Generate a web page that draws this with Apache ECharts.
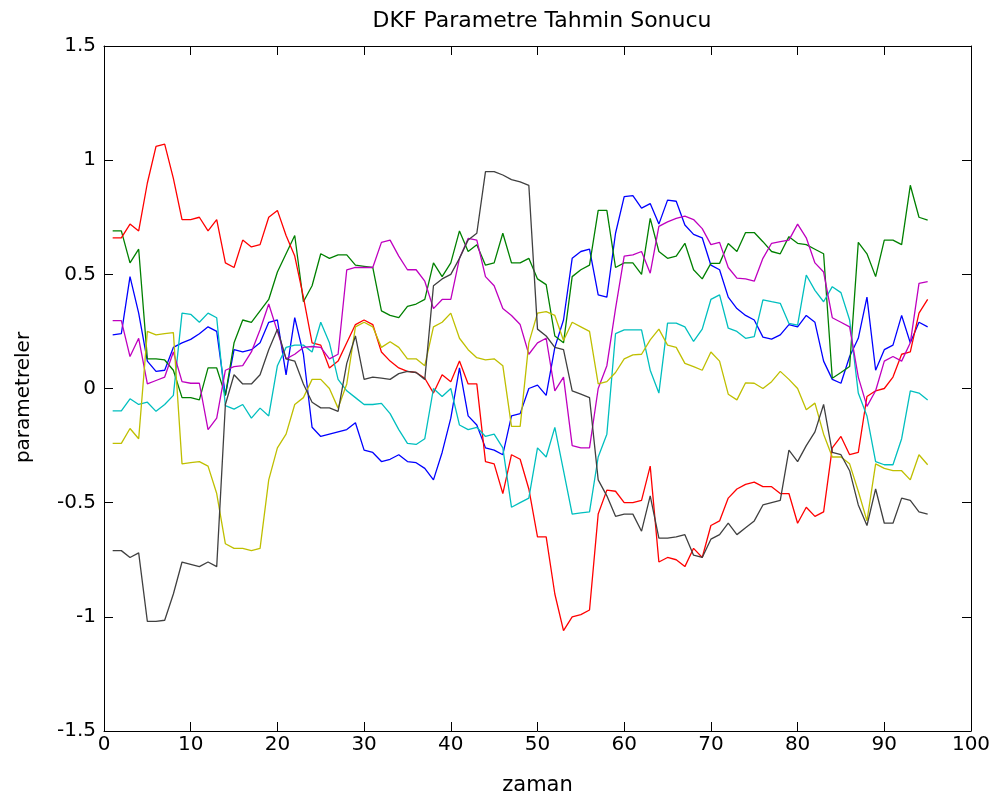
<!DOCTYPE html>
<html>
<head>
<meta charset="utf-8">
<script src="https://cdn.jsdelivr.net/npm/echarts@6/dist/echarts.min.js"></script>
<style>
html,body{margin:0;padding:0;background:#fff;}
#chart{width:1003px;height:807px;}
</style>
</head>
<body>
<div id="chart"></div>
<script>
const xs = [1,2,3,4,5,6,7,8,9,10,11,12,13,14,15,16,17,18,19,20,21,22,23,24,25,26,27,28,29,30,31,32,33,34,35,36,37,38,39,40,41,42,43,44,45,46,47,48,49,50,51,52,53,54,55,56,57,58,59,60,61,62,63,64,65,66,67,68,69,70,71,72,73,74,75,76,77,78,79,80,81,82,83,84,85,86,87,88,89,90,91,92,93,94,95];
const xTicks = [0,10,20,30,40,50,60,70,80,90,100];
const yTicks = [-1.5,-1,-0.5,0,0.5,1,1.5];

const blue = [0.235,0.24,0.49,0.33,0.12,0.075,0.08,0.18,0.2,0.215,0.24,0.27,0.25,-0.03,0.17,0.16,0.17,0.2,0.29,0.3,0.06,0.31,0.15,-0.17,-0.21,-0.2,-0.19,-0.18,-0.15,-0.27,-0.28,-0.32,-0.31,-0.29,-0.32,-0.325,-0.35,-0.40,-0.28,-0.13,0.09,-0.12,-0.16,-0.26,-0.27,-0.29,-0.12,-0.11,0.0,0.015,-0.03,0.18,0.3,0.57,0.6,0.61,0.41,0.40,0.68,0.84,0.845,0.79,0.81,0.72,0.825,0.82,0.716,0.675,0.66,0.54,0.52,0.40,0.35,0.32,0.30,0.225,0.216,0.235,0.28,0.27,0.32,0.29,0.12,0.04,0.023,0.14,0.22,0.40,0.08,0.17,0.19,0.32,0.2,0.29,0.27];
const green = [0.69,0.69,0.55,0.61,0.13,0.13,0.125,0.08,-0.04,-0.04,-0.05,0.09,0.09,-0.03,0.2,0.3,0.29,0.34,0.39,0.51,0.59,0.67,0.38,0.45,0.59,0.57,0.585,0.585,0.54,0.535,0.53,0.34,0.32,0.31,0.36,0.37,0.39,0.55,0.49,0.55,0.69,0.6,0.63,0.54,0.55,0.68,0.55,0.55,0.57,0.48,0.455,0.23,0.2,0.49,0.52,0.54,0.78,0.78,0.53,0.55,0.55,0.5,0.745,0.6,0.57,0.58,0.636,0.52,0.48,0.548,0.548,0.635,0.6,0.683,0.683,0.643,0.6,0.59,0.665,0.636,0.63,0.61,0.59,0.045,0.07,0.096,0.64,0.59,0.49,0.65,0.65,0.63,0.89,0.75,0.737];
const red = [0.66,0.66,0.72,0.69,0.9,1.06,1.07,0.92,0.74,0.74,0.75,0.69,0.74,0.55,0.53,0.65,0.62,0.63,0.75,0.78,0.67,0.58,0.40,0.20,0.19,0.09,0.12,0.20,0.28,0.30,0.28,0.16,0.12,0.09,0.075,0.07,0.045,-0.02,0.06,0.03,0.12,0.02,0.02,-0.32,-0.33,-0.46,-0.29,-0.31,-0.44,-0.65,-0.65,-0.9,-1.06,-1.0,-0.99,-0.97,-0.55,-0.445,-0.45,-0.50,-0.50,-0.49,-0.34,-0.76,-0.74,-0.75,-0.78,-0.70,-0.74,-0.6,-0.58,-0.48,-0.44,-0.42,-0.41,-0.43,-0.43,-0.46,-0.46,-0.59,-0.52,-0.56,-0.54,-0.26,-0.21,-0.29,-0.28,-0.035,-0.01,0.0,0.05,0.15,0.16,0.33,0.39];
const cyan = [-0.098,-0.098,-0.045,-0.07,-0.06,-0.10,-0.07,-0.03,0.33,0.325,0.29,0.33,0.31,-0.075,-0.09,-0.07,-0.13,-0.086,-0.12,0.1,0.18,0.19,0.19,0.16,0.29,0.2,0.04,-0.01,-0.04,-0.07,-0.07,-0.065,-0.11,-0.18,-0.24,-0.245,-0.22,0.0,-0.035,0.0,-0.16,-0.18,-0.17,-0.21,-0.2,-0.26,-0.52,-0.50,-0.48,-0.26,-0.30,-0.17,-0.36,-0.55,-0.545,-0.54,-0.3,-0.2,0.24,0.257,0.257,0.257,0.08,-0.02,0.286,0.286,0.27,0.206,0.26,0.39,0.41,0.264,0.25,0.22,0.227,0.388,0.38,0.373,0.285,0.278,0.497,0.43,0.38,0.446,0.42,0.3,-0.02,-0.12,-0.32,-0.334,-0.334,-0.22,-0.01,-0.02,-0.05];
const magenta = [0.297,0.297,0.14,0.22,0.02,0.035,0.05,0.16,0.03,0.023,0.023,-0.18,-0.13,0.08,0.096,0.1,0.16,0.257,0.37,0.25,0.13,0.15,0.18,0.184,0.18,0.13,0.15,0.52,0.53,0.53,0.53,0.64,0.65,0.58,0.52,0.52,0.47,0.35,0.39,0.39,0.57,0.657,0.65,0.49,0.45,0.35,0.32,0.28,0.15,0.2,0.22,-0.01,0.05,-0.25,-0.26,-0.26,0.0,0.1,0.35,0.58,0.585,0.6,0.505,0.71,0.73,0.745,0.755,0.74,0.70,0.63,0.64,0.53,0.483,0.48,0.47,0.57,0.636,0.643,0.65,0.72,0.66,0.55,0.51,0.31,0.29,0.27,0.05,-0.078,-0.01,0.12,0.14,0.12,0.2,0.46,0.468];
const yellow = [-0.24,-0.24,-0.175,-0.22,0.25,0.235,0.24,0.245,-0.33,-0.325,-0.32,-0.34,-0.46,-0.68,-0.70,-0.70,-0.71,-0.70,-0.4,-0.26,-0.2,-0.07,-0.04,0.04,0.04,0.0,-0.086,0.02,0.27,0.29,0.27,0.18,0.205,0.18,0.13,0.13,0.1,0.27,0.29,0.33,0.22,0.17,0.135,0.125,0.13,0.10,-0.166,-0.166,0.2,0.33,0.337,0.32,0.21,0.29,0.27,0.25,0.02,0.03,0.07,0.13,0.147,0.15,0.213,0.26,0.19,0.18,0.11,0.096,0.08,0.16,0.12,-0.025,-0.05,0.025,0.023,0.0,0.03,0.075,0.04,0.0,-0.093,-0.064,-0.2,-0.3,-0.3,-0.33,-0.45,-0.58,-0.33,-0.35,-0.36,-0.36,-0.40,-0.29,-0.334];
const black = [-0.71,-0.71,-0.74,-0.72,-1.02,-1.02,-1.015,-0.90,-0.76,-0.77,-0.78,-0.76,-0.78,-0.07,0.06,0.02,0.02,0.06,0.17,0.26,0.13,0.12,0.02,-0.06,-0.085,-0.085,-0.10,0.11,0.23,0.04,0.05,0.045,0.04,0.065,0.075,0.07,0.04,0.45,0.48,0.5,0.57,0.65,0.68,0.95,0.95,0.935,0.915,0.905,0.89,0.26,0.23,0.18,0.17,-0.01,-0.025,-0.04,-0.40,-0.47,-0.56,-0.55,-0.55,-0.625,-0.47,-0.655,-0.655,-0.65,-0.64,-0.73,-0.74,-0.66,-0.64,-0.59,-0.64,-0.61,-0.58,-0.51,-0.50,-0.49,-0.27,-0.32,-0.25,-0.19,-0.07,-0.28,-0.29,-0.36,-0.51,-0.60,-0.44,-0.59,-0.59,-0.48,-0.49,-0.54,-0.55];

const seriesDefs = [
  {name:'b', values: blue, color:'#0000ff'},
  {name:'g', values: green, color:'#008000'},
  {name:'r', values: red, color:'#ff0000'},
  {name:'c', values: cyan, color:'#00bfbf'},
  {name:'m', values: magenta, color:'#bf00bf'},
  {name:'y', values: yellow, color:'#bfbf00'},
  {name:'k', values: black, color:'#404040'}
];

const FONT = '"DejaVu Sans", "Liberation Sans", Arial, sans-serif';
const chart = echarts.init(document.getElementById('chart'), null, {renderer:'canvas'});

const axisCommon = {
  axisLine: {show:true, onZero:false, lineStyle:{color:'#000', width:1}},
  axisTick: {show:true, inside:true, length:9, lineStyle:{color:'#000', width:1}},
  splitLine: {show:false}
};

chart.setOption({
  backgroundColor:'#fff',
  animation:false,
  title:{
    text:'DKF Parametre Tahmin Sonucu',
    left:537, top:5, textAlign:'center',
    textStyle:{fontFamily:FONT, fontSize:22, fontWeight:'normal', color:'#000'}
  },
  grid:{left:104, right:32, top:46, bottom:76, containLabel:false},
  xAxis:[
    Object.assign({
      type:'value', min:0, max:100, interval:10, position:'bottom',
      name:'zaman', nameLocation:'middle', nameGap:44,
      nameTextStyle:{fontFamily:FONT, fontSize:21, color:'#000'},
      axisLabel:{fontFamily:FONT, fontSize:20, color:'#000', margin:4,
        formatter: v => xTicks.includes(v) ? String(v) : ''}
    }, axisCommon),
    Object.assign({
      type:'value', min:0, max:100, interval:10, position:'top',
      axisLabel:{show:false}
    }, axisCommon)
  ],
  yAxis:[
    Object.assign({
      type:'value', min:-1.5, max:1.5, interval:0.5, position:'left',
      name:'parametreler', nameLocation:'middle', nameGap:70, nameRotate:90,
      nameTextStyle:{fontFamily:FONT, fontSize:20, color:'#000', padding:[0,18,0,0]},
      axisLabel:{fontFamily:FONT, fontSize:20, color:'#000', margin:8,
        formatter: v => { const t = yTicks.find(k => Math.abs(k - v) < 1e-9); return t === undefined ? '' : String(t); }}
    }, axisCommon),
    Object.assign({
      type:'value', min:-1.5, max:1.5, interval:0.5, position:'right',
      axisLabel:{show:false}
    }, axisCommon)
  ],
  series: seriesDefs.map(s => ({
    name:s.name,
    type:'line',
    xAxisIndex:0, yAxisIndex:0,
    data: xs.map((x,i) => [x, s.values[i]]),
    showSymbol:false,
    symbol:'none',
    lineStyle:{color:s.color, width:1.3},
    itemStyle:{color:s.color},
    smooth:false
  }))
});
</script>
</body>
</html>
